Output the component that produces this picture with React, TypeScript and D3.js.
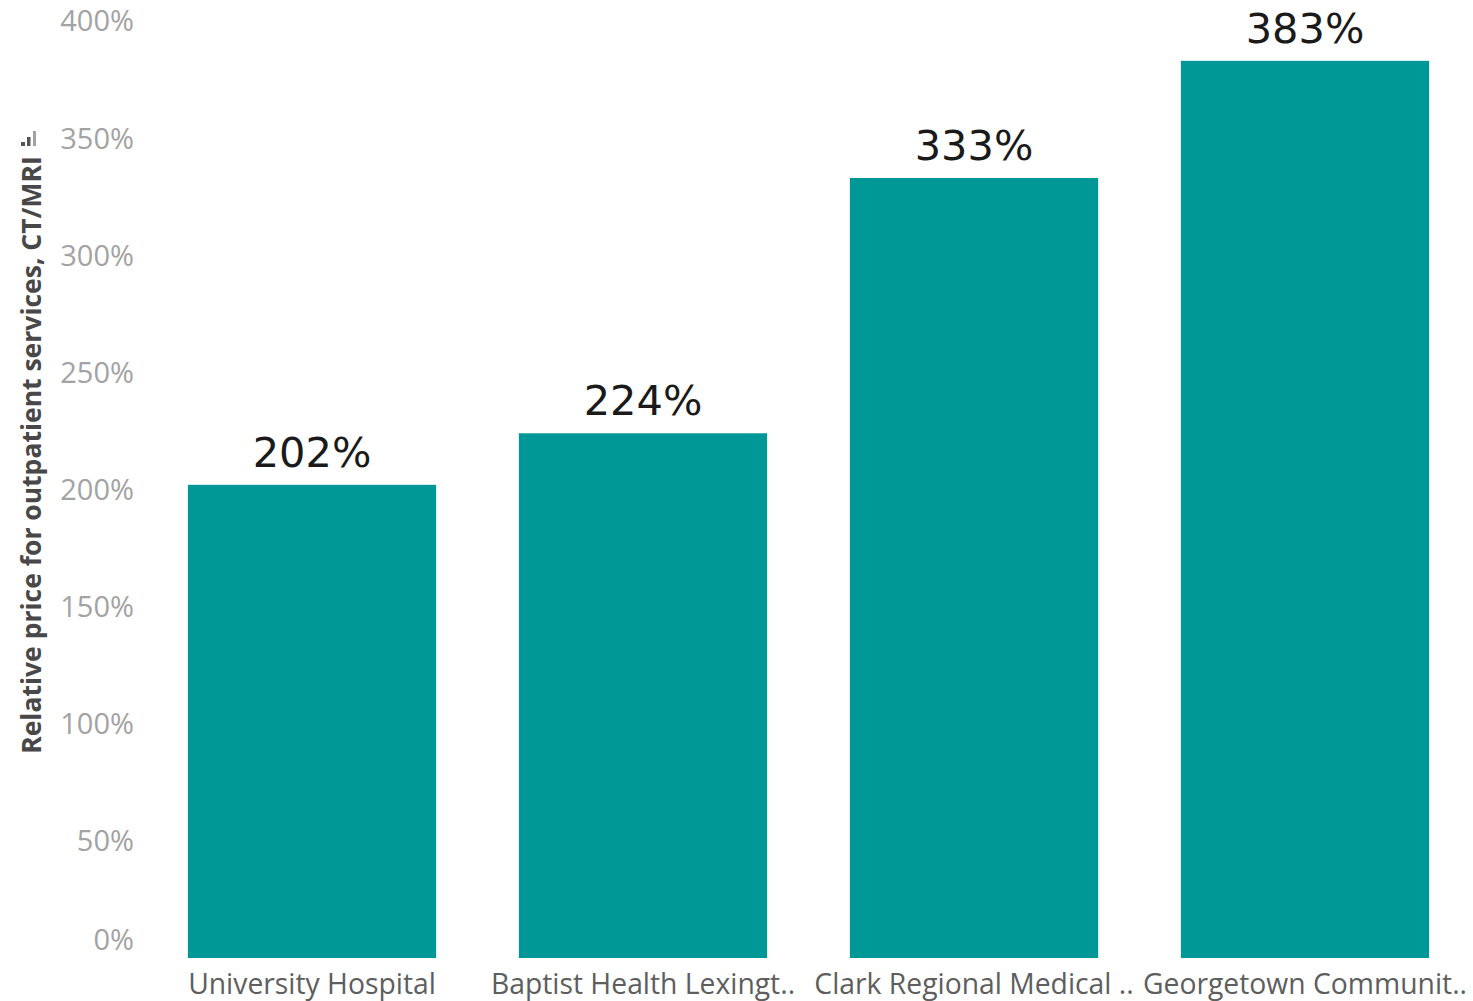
import React from "react";
import * as d3 from "d3";

const hospitals = [
  "University Hospital",
  "Baptist Health Lexingt..",
  "Clark Regional Medical ..",
  "Georgetown Communit..",
];
const relativePrice = [202, 224, 333, 383];
const yTicks = [0, 50, 100, 150, 200, 250, 300, 350, 400];
const yTitle = "Relative price for outpatient services, CT/MRI";

const W = 1473;
const H = 1001;
const barColor = "#009896";

export default function App() {
  const x = d3
    .scaleBand<string>()
    .domain(hospitals)
    .range([146.5, 1470.5])
    .paddingInner(0.25)
    .paddingOuter(0.125);
  const y = d3.scaleLinear().domain([0, 400]).range([958, 21]);

  return (
    <svg
      width={W}
      height={H}
      style={{ position: "absolute", left: 0, top: 0, display: "block", background: "#fff" }}
    >
      {/* y axis tick labels */}
      <g fontFamily="'Open Sans', sans-serif" fontSize={29} fill="#a3a3a3" textAnchor="end">
        {yTicks.map((t) => (
          <text key={t} x={134} y={Math.min(y(t), 940)} dy="0.36em">
            {t}%
          </text>
        ))}
      </g>

      {/* y axis title + sort icon */}
      <text
        transform={`translate(41, 455) rotate(-90)`}
        textAnchor="middle"
        fontFamily="'Open Sans', sans-serif"
        fontWeight="bold"
        fontSize={26.5}
        fill="#484848"
      >
        {yTitle}
      </text>
      <g fill="#555">
        <rect x={21} y={142} width={4} height={4} />
        <rect x={27} y={137} width={3.5} height={9} />
        <rect x={33} y={131} width={3} height={15} opacity={0.55} />
      </g>

      {/* bars */}
      {hospitals.map((h, i) => (
        <rect
          key={h}
          x={x(h)}
          y={y(relativePrice[i])}
          width={x.bandwidth()}
          height={y(0) - y(relativePrice[i])}
          fill={barColor}
        />
      ))}

      {/* value labels */}
      <g fontFamily="'DejaVu Sans', sans-serif" fontSize={41.5} fill="#1a1a1a" textAnchor="middle">
        {hospitals.map((h, i) => (
          <text key={h} x={(x(h) ?? 0) + x.bandwidth() / 2} y={y(relativePrice[i]) - 18}>
            {relativePrice[i]}%
          </text>
        ))}
      </g>

      {/* x axis labels */}
      <g fontFamily="'Open Sans', sans-serif" fontSize={28.3} fill="#5e5e5e" textAnchor="middle">
        {hospitals.map((h) => (
          <text key={h} x={(x(h) ?? 0) + x.bandwidth() / 2} y={994}>
            {h}
          </text>
        ))}
      </g>
    </svg>
  );
}
